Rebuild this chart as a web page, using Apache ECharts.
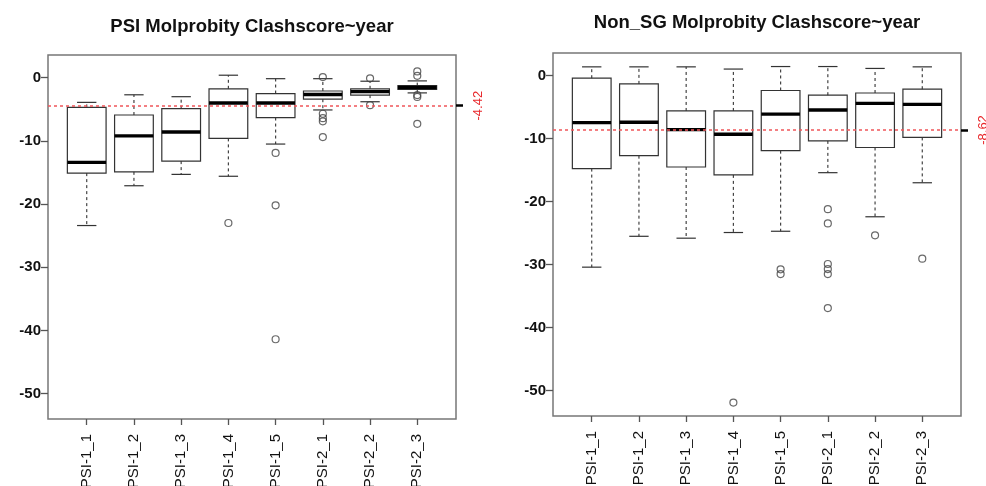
<!DOCTYPE html>
<html>
<head>
<meta charset="utf-8">
<script src="https://cdn.jsdelivr.net/npm/echarts@6/dist/echarts.min.js"></script>
<style>
html, body { margin: 0; padding: 0; background: #fff; }
#main { width: 986px; height: 486px; }
</style>
</head>
<body>
<div id="main"></div>
<script>
var chartDom = document.getElementById('main');
var myChart = echarts.init(chartDom);

// categories (same on both panels)
var groups = ['PSI-1_1', 'PSI-1_2', 'PSI-1_3', 'PSI-1_4', 'PSI-1_5', 'PSI-2_1', 'PSI-2_2', 'PSI-2_3'];
var yTicks = [0, -10, -20, -30, -40, -50];

// left panel: PSI
var psiLow  = [-23.4, -17.1, -15.3, -15.6, -10.5, -5.1, -3.8, -2.4];
var psiQ1   = [-15.1, -14.9, -13.2, -9.6, -6.3, -3.4, -2.75, -1.85];
var psiMed  = [-13.4, -9.2, -8.6, -4.0, -4.0, -2.65, -2.2, -1.55];
var psiQ3   = [-4.7, -5.9, -4.9, -1.75, -2.5, -2.1, -1.75, -1.25];
var psiHigh = [-3.9, -2.7, -3.0, 0.4, -0.15, -0.15, -0.55, -0.5];
var psiOut  = [[3, -23.0], [4, -11.9], [4, -20.2], [4, -41.4],
               [5, 0.1], [5, -5.7], [5, -6.4], [5, -6.9], [5, -9.4],
               [6, -0.1], [6, -4.35],
               [7, 1.0], [7, 0.3], [7, -2.75], [7, -3.05], [7, -7.3]];
var psiMean = -4.42;

// right panel: Non_SG
var nonLow  = [-30.4, -25.5, -25.8, -24.9, -24.7, -15.4, -22.4, -17.0];
var nonQ1   = [-14.75, -12.7, -14.5, -15.75, -11.9, -10.35, -11.4, -9.8];
var nonMed  = [-7.45, -7.4, -8.56, -9.3, -6.1, -5.45, -4.4, -4.55];
var nonQ3   = [-0.4, -1.3, -5.6, -5.6, -2.35, -3.1, -2.75, -2.15];
var nonHigh = [1.4, 1.4, 1.4, 1.05, 1.45, 1.45, 1.15, 1.4];
var nonOut  = [[3, -51.9], [4, -30.75], [4, -31.5],
               [5, -21.2], [5, -23.45], [5, -29.9], [5, -30.7], [5, -31.5], [5, -36.9],
               [6, -25.35], [7, -29.05]];
var nonMean = -8.62;

var yMin = -54.03, yMax = 3.6;

function boxRows(lo, q1, md, q3, hi) { //拼成custom系列的数据
    var rows = [];
    for (var i = 0; i < lo.length; i++) {
        rows.push([i, lo[i], q1[i], md[i], q3[i], hi[i]]);
    }
    return rows;
}

function renderBox(params, api) { //画R风格的箱线
    var x = api.value(0);
    var lo = api.coord([x, api.value(1)]);
    var q1 = api.coord([x, api.value(2)]);
    var md = api.coord([x, api.value(3)]);
    var q3 = api.coord([x, api.value(4)]);
    var hi = api.coord([x, api.value(5)]);
    var w = api.size([0.82, 0])[0];
    var cx = lo[0];
    var solid = { stroke: '#333', lineWidth: 1.2, fill: null };
    var dash = { stroke: '#444', lineWidth: 1.2, lineDash: [3, 3], fill: null };
    return {
        type: 'group',
        children: [
            { type: 'line', shape: { x1: cx, y1: q3[1], x2: cx, y2: hi[1] }, style: dash },
            { type: 'line', shape: { x1: cx, y1: q1[1], x2: cx, y2: lo[1] }, style: dash },
            { type: 'line', shape: { x1: cx - w / 4, y1: hi[1], x2: cx + w / 4, y2: hi[1] }, style: solid },
            { type: 'line', shape: { x1: cx - w / 4, y1: lo[1], x2: cx + w / 4, y2: lo[1] }, style: solid },
            { type: 'rect', shape: { x: cx - w / 2, y: q3[1], width: w, height: q1[1] - q3[1] }, style: solid },
            { type: 'line', shape: { x1: cx - w / 2, y1: md[1], x2: cx + w / 2, y2: md[1] }, style: { stroke: '#000', lineWidth: 3.4 } }
        ]
    };
}

function xAxisFor(gi) {
    return {
        type: 'value', gridIndex: gi, min: -0.82, max: 7.82,
        axisLine: { show: false, onZero: false },
        splitLine: { show: false },
        axisTick: { customValues: [0, 1, 2, 3, 4, 5, 6, 7], length: 6, lineStyle: { color: '#555', width: 1.3 } },
        axisLabel: {
            customValues: [0, 1, 2, 3, 4, 5, 6, 7], rotate: 90, margin: 15,
            fontFamily: 'Liberation Sans', fontSize: 15, color: '#111',
            formatter: function(v) { return groups[Math.round(v)]; }
        }
    };
}

function yAxesFor(gi, mean) {
    return [{
        type: 'value', gridIndex: gi, min: yMin, max: yMax,
        axisLine: { show: false, onZero: false },
        splitLine: { show: false },
        axisTick: { customValues: yTicks, length: 7, lineStyle: { color: '#555', width: 1.3 } },
        axisLabel: { customValues: yTicks, margin: 7, fontFamily: 'Liberation Sans', fontSize: 15, fontWeight: 'bold', color: '#111' }
    }, {
        type: 'value', gridIndex: gi, position: 'right', min: yMin, max: yMax,
        axisLine: { show: false, onZero: false },
        splitLine: { show: false },
        axisTick: { customValues: [mean], length: 7, lineStyle: { color: '#000', width: 2.5 } },
        axisLabel: {
            customValues: [mean], rotate: 90, margin: 16,
            fontFamily: 'Liberation Sans', fontSize: 13, color: '#e8262a',
            formatter: function(v) { return v.toFixed(2); }
        }
    }];
}

function panelSeries(gi, rows, outs, mean) {
    return [{
        type: 'custom', xAxisIndex: gi, yAxisIndex: gi * 2,
        renderItem: renderBox,
        encode: { x: 0, y: [1, 2, 3, 4, 5] },
        data: rows, silent: true, z: 2
    }, {
        type: 'scatter', xAxisIndex: gi, yAxisIndex: gi * 2,
        symbol: 'circle', symbolSize: 7,
        itemStyle: { color: 'rgba(0,0,0,0)', borderColor: '#444', borderWidth: 1.2 },
        data: outs, silent: true, z: 3,
        markLine: {
            silent: true, symbol: 'none', z: 5,
            label: { show: false },
            lineStyle: { color: '#f0555a', type: [3, 3], width: 1.5 },
            data: [{ yAxis: mean }]
        }
    }];
}

var option = {
    animation: false,
    backgroundColor: '#fff',
    title: [{
        text: 'PSI Molprobity Clashscore~year', left: 252, top: 17, textAlign: 'center', padding: 0,
        textStyle: { fontFamily: 'Liberation Sans', fontSize: 18.5, fontWeight: 'bold', color: '#111' }
    }, {
        text: 'Non_SG Molprobity Clashscore~year', left: 757, top: 13, textAlign: 'center', padding: 0,
        textStyle: { fontFamily: 'Liberation Sans', fontSize: 18.5, fontWeight: 'bold', color: '#111' }
    }],
    grid: [
        { left: 48, top: 55, width: 408, height: 364, outerBoundsMode: 'none', show: true, borderColor: '#777', borderWidth: 1.5 },
        { left: 553, top: 53, width: 408, height: 363, outerBoundsMode: 'none', show: true, borderColor: '#777', borderWidth: 1.5 }
    ],
    xAxis: [xAxisFor(0), xAxisFor(1)],
    yAxis: yAxesFor(0, psiMean).concat(yAxesFor(1, nonMean)),
    series: panelSeries(0, boxRows(psiLow, psiQ1, psiMed, psiQ3, psiHigh), psiOut, psiMean)
        .concat(panelSeries(1, boxRows(nonLow, nonQ1, nonMed, nonQ3, nonHigh), nonOut, nonMean))
};

option && myChart.setOption(option);
</script>
</body>
</html>
